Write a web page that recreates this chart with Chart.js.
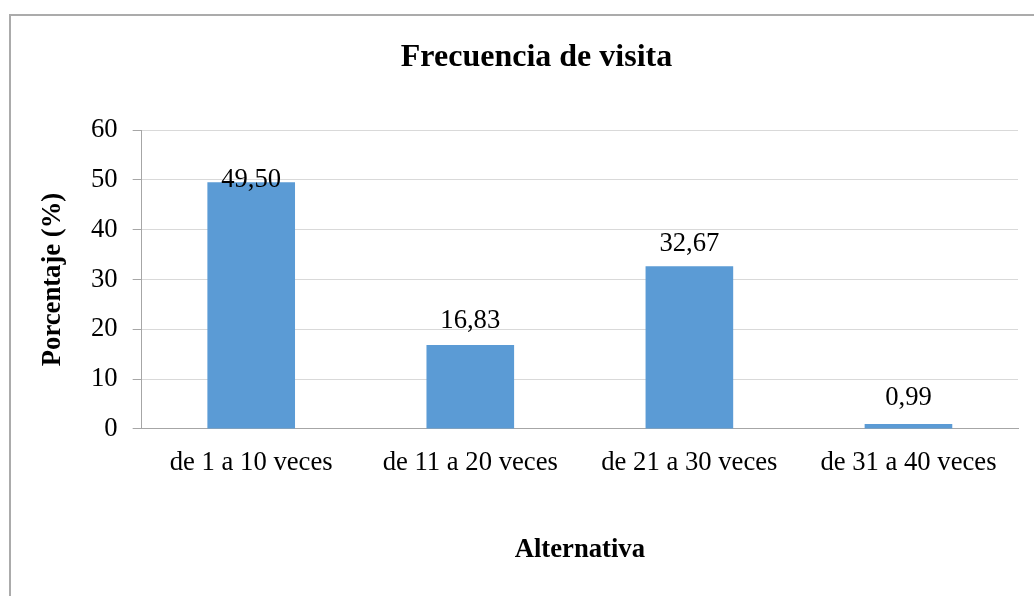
<!DOCTYPE html>
<html>
<head>
<meta charset="utf-8">
<script src="https://cdn.jsdelivr.net/npm/chart.js@4"></script>
<style>
  html, body { margin: 0; padding: 0; background: #fff; overflow: hidden; }
  #marco {
    position: absolute; left: 9px; top: 14px;
    width: 1100px; height: 640px;
    border-top: 2px solid #ababab;
    border-left: 2px solid #ababab;
  }
  #grafico { position: absolute; left: 0; top: 0; }
</style>
</head>
<body>
<div id="marco">
  <canvas id="grafico" width="1051" height="580"></canvas>
</div>
<script>
// categorías del eje X
const categorias = ['de 1 a 10 veces', 'de 11 a 20 veces', 'de 21 a 30 veces', 'de 31 a 40 veces'];
// porcentaje por alternativa
const porcentajes = [49.50, 16.83, 32.67, 0.99];
// marcas del eje Y
const marcasY = [0, 10, 20, 30, 40, 50, 60];

const FUENTE = "'Liberation Serif', 'Times New Roman', serif";

// formato con coma decimal
function formato(v) {
  return v.toFixed(2).replace('.', ',');
}

// etiquetas de datos encima de cada barra
const etiquetas = {
  id: 'etiquetas',
  afterDatasetsDraw(chart, args, opts) {
    const ctx = chart.ctx;
    const meta = chart.getDatasetMeta(0);
    ctx.save();
    ctx.font = '26.67px ' + FUENTE;
    ctx.fillStyle = '#000';
    ctx.textAlign = 'center';
    ctx.textBaseline = 'alphabetic';
    meta.data.forEach((barra, i) => {
      ctx.fillText(formato(porcentajes[i]), barra.x, barra.y - opts.desplazamiento[i]);
    });
    ctx.restore();
  }
};

const ctx = document.getElementById('grafico').getContext('2d');
new Chart(ctx, {
  type: 'bar',
  data: {
    labels: categorias,
    datasets: [{
      data: porcentajes,
      backgroundColor: '#5B9BD5',
      categoryPercentage: 1,
      barPercentage: 0.4
    }]
  },
  plugins: [etiquetas],
  options: {
    responsive: false,
    animation: false,
    layout: { padding: 0 },
    plugins: {
      legend: { display: false },
      tooltip: { enabled: false },
      title: {
        display: true,
        text: 'Frecuencia de visita',
        color: '#000',
        font: { family: FUENTE, size: 32, weight: 'bold' },
        padding: { top: 23, bottom: 52.6 }
      },
      etiquetas: { desplazamiento: [-5, 17, 15, 19] }
    },
    scales: {
      x: {
        grid: { display: false, drawTicks: false },
        border: { display: true, color: '#a6a6a6', width: 1 },
        ticks: {
          color: '#000',
          padding: 18,
          maxRotation: 0,
          font: { family: FUENTE, size: 26.67 }
        },
        title: {
          display: true,
          text: 'Alternativa',
          color: '#000',
          font: { family: FUENTE, size: 26.67, weight: 'bold' },
          padding: { top: 37, bottom: 30 }
        }
      },
      y: {
        min: 0,
        max: 60,
        afterBuildTicks: (eje) => { eje.ticks = marcasY.map(v => ({ value: v })); },
        grid: { color: '#d9d9d9', tickColor: '#a6a6a6', tickLength: 9 },
        border: { display: true, color: '#a6a6a6', width: 1 },
        ticks: {
          color: '#000',
          padding: 15,
          font: { family: FUENTE, size: 26.67 }
        },
        title: {
          display: true,
          text: 'Porcentaje (%)',
          color: '#000',
          font: { family: FUENTE, size: 26.67, weight: 'bold' },
          padding: { top: 26, bottom: 7 }
        }
      },
      // eje vacío a la derecha: deja margen sin mover el título
      derecha: {
        type: 'linear',
        position: 'right',
        min: 0,
        max: 60,
        grid: { display: false, drawTicks: false },
        border: { display: false },
        ticks: { display: false },
        afterFit: (eje) => { eje.width = 44; }
      }
    }
  }
});
</script>
</body>
</html>
